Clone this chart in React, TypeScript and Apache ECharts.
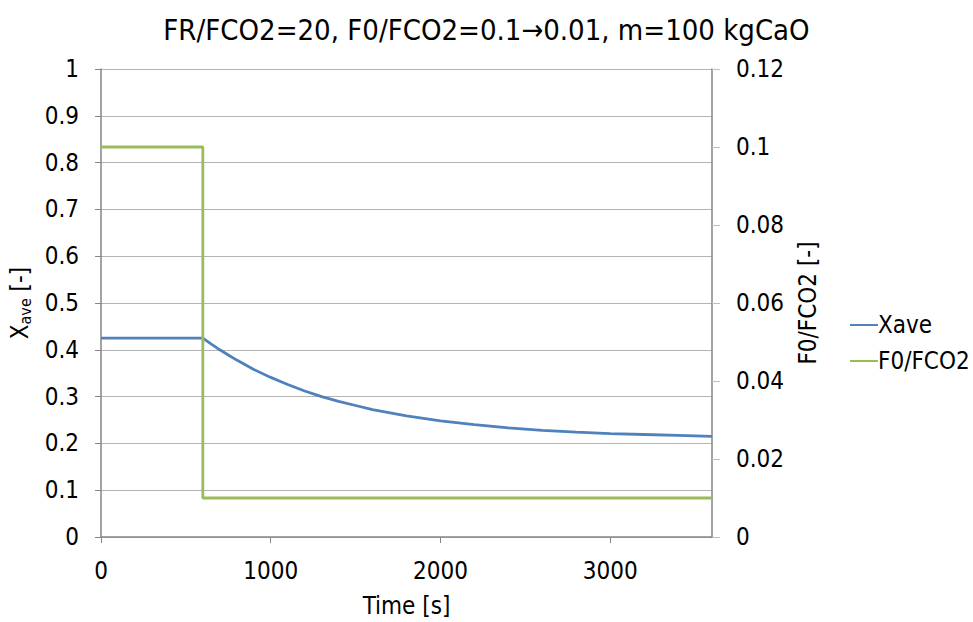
import React, { useEffect, useRef } from "react";
import * as echarts from "echarts";

const titleText = "FR/FCO2=20, F0/FCO2=0.1→0.01, m=100 kgCaO";
const xaveTimes = [0, 600, 650, 700, 750, 800, 900, 1000, 1100, 1200, 1300, 1400, 1500, 1600, 1800, 2000, 2200, 2400, 2600, 2800, 3000, 3200, 3400, 3600];
const xaveValues = [0.425, 0.425, 0.412, 0.4, 0.389, 0.378, 0.358, 0.341, 0.326, 0.312, 0.3, 0.29, 0.281, 0.272, 0.259, 0.248, 0.24, 0.233, 0.228, 0.224, 0.221, 0.219, 0.217, 0.215];
const ratioTimes = [0, 600, 600, 3600];
const ratioValues = [0.1, 0.1, 0.01, 0.01];
const seriesNames = ["Xave", "F0/FCO2"];
const colors = ["#4F81BD", "#9BBB59"];

const FONT = "'DejaVu Sans Condensed', Roboto, sans-serif";

export default function App() {
  const ref = useRef<HTMLDivElement>(null);
  useEffect(() => {
    if (!ref.current) return;
    const chart = echarts.init(ref.current, null, { renderer: "svg" });
    const xave = xaveTimes.map((t, i) => [t, xaveValues[i]]);
    const ratio = ratioTimes.map((t, i) => [t, ratioValues[i]]);
    chart.setOption({
      animation: false,
      backgroundColor: "#ffffff",
      textStyle: { fontFamily: FONT, color: "#000" },
      title: {
        text: titleText,
        left: "center",
        top: 10,
        textStyle: { fontFamily: FONT, fontSize: 29, fontWeight: "normal", color: "#000" },
      },
      grid: { left: 101, right: 261, top: 69, bottom: 85, containLabel: false, outerBoundsMode: "none" },
      legend: {
        orient: "vertical",
        left: 845,
        top: 308,
        itemWidth: 28,
        itemHeight: 2,
        itemGap: 12,
        icon: "rect",
        textStyle: { fontFamily: FONT, fontSize: 24, color: "#000", padding: [0, 0, 0, -5] },
        data: seriesNames,
      },
      xAxis: {
        type: "value",
        min: 0,
        max: 3600,
        interval: 1000,
        name: "Time [s]",
        nameLocation: "middle",
        nameGap: 57,
        nameTextStyle: { fontFamily: FONT, fontSize: 24, color: "#000" },
        axisLine: { lineStyle: { color: "#868686", width: 1.5 } },
        axisTick: { show: true, length: 6, lineStyle: { color: "#868686" } },
        axisLabel: {
          fontFamily: FONT,
          fontSize: 24,
          color: "#000",
          margin: 22,
          showMaxLabel: false,
          formatter: (v: number) => String(v),
        },
        splitLine: { show: false },
      },
      yAxis: [
        {
          type: "value",
          min: 0,
          max: 1,
          interval: 0.1,
          position: "left",
          name: "{a|X}{b|ave}{a| [-]}",
          nameLocation: "middle",
          nameRotate: 90,
          nameGap: 68,
          nameTextStyle: {
            rich: {
              a: { fontFamily: FONT, fontSize: 24, color: "#000" },
              b: { fontFamily: FONT, fontSize: 16, color: "#000", padding: [11, 0, 0, 0] },
            },
          },
          axisLine: { show: true, lineStyle: { color: "#868686", width: 1.5 } },
          axisTick: { show: true, length: 6, lineStyle: { color: "#868686" } },
          axisLabel: { fontFamily: FONT, fontSize: 24, color: "#000", margin: 22, formatter: (v: number) => String(v) },
          splitLine: { show: true, lineStyle: { color: "#B3B3B3", width: 1.2 } },
        },
        {
          type: "value",
          min: 0,
          max: 0.12,
          interval: 0.02,
          position: "right",
          name: "F0/FCO2 [-]",
          nameLocation: "middle",
          nameRotate: 90,
          nameGap: 84,
          nameTextStyle: { fontFamily: FONT, fontSize: 24, color: "#000" },
          axisLine: { show: true, lineStyle: { color: "#868686", width: 1.5 } },
          axisTick: { show: true, length: 8, lineStyle: { color: "#BFBFBF" } },
          axisLabel: { fontFamily: FONT, fontSize: 24, color: "#000", margin: 24, formatter: (v: number) => String(Number(v.toFixed(2))) },
          splitLine: { show: false },
        },
      ],
      series: [
        {
          name: seriesNames[0],
          type: "line",
          yAxisIndex: 0,
          data: xave,
          showSymbol: false,
          symbol: "none",
          lineStyle: { color: colors[0], width: 2.8 },
          itemStyle: { color: colors[0] },
        },
        {
          name: seriesNames[1],
          type: "line",
          yAxisIndex: 1,
          data: ratio,
          showSymbol: false,
          symbol: "none",
          lineStyle: { color: colors[1], width: 2.8 },
          itemStyle: { color: colors[1] },
        },
      ],
    });
    return () => chart.dispose();
  }, []);
  return <div ref={ref} style={{ width: 973, height: 622, position: "absolute", left: 0, top: 0 }} />;
}
